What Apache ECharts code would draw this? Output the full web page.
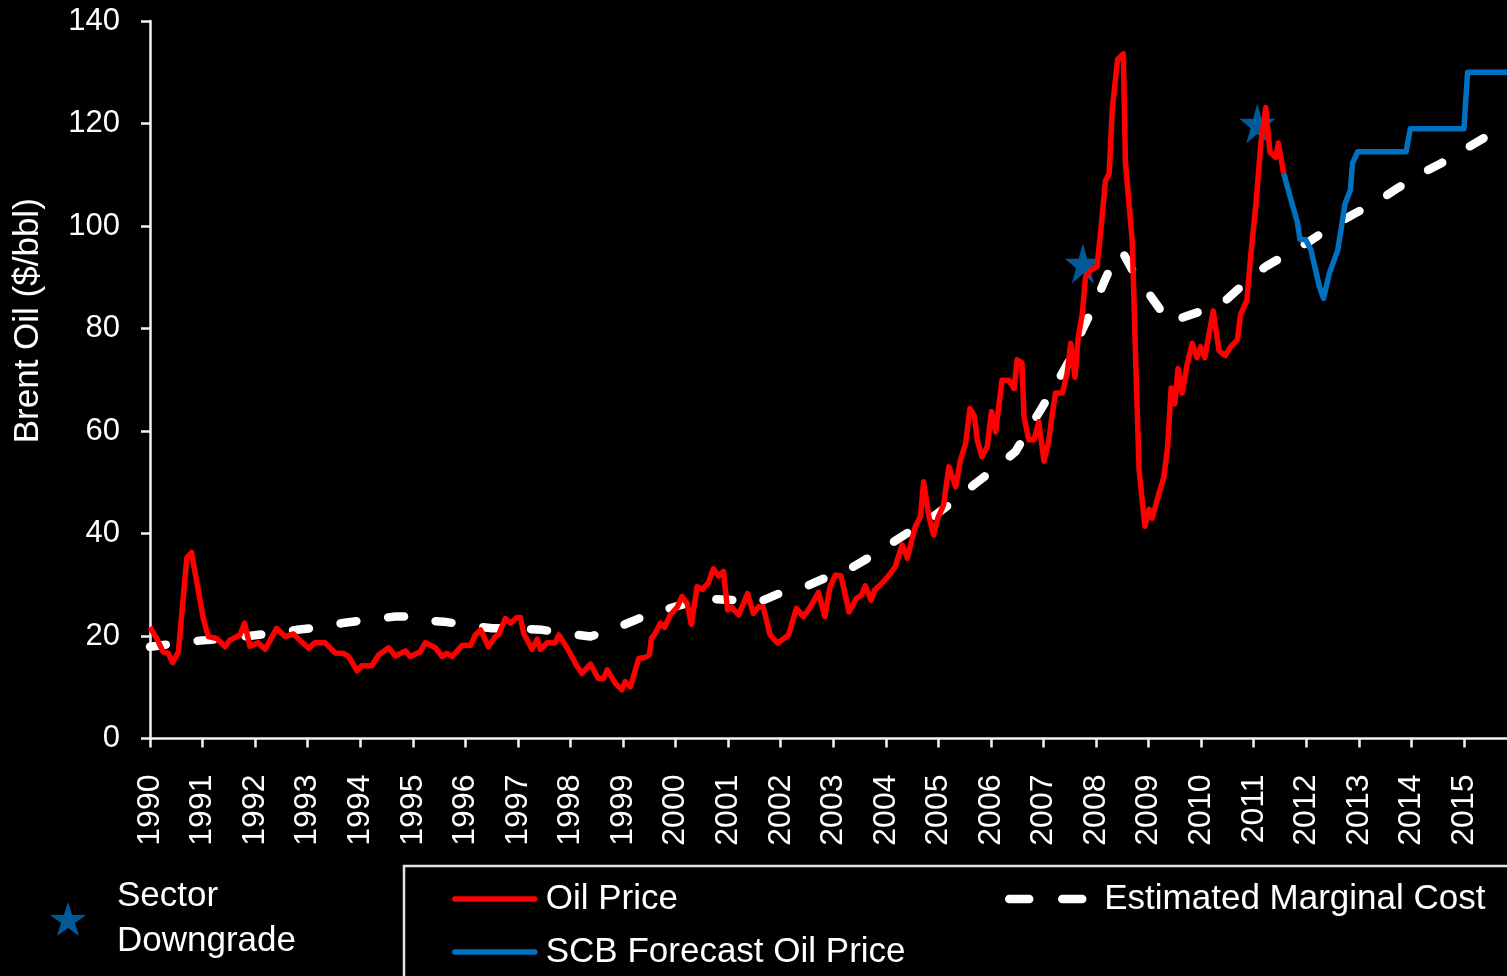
<!DOCTYPE html>
<html>
<head>
<meta charset="utf-8">
<title>Brent Oil</title>
<script src="https://cdn.jsdelivr.net/npm/echarts@6/dist/echarts.min.js"></script>
<style>
  html, body { margin: 0; padding: 0; background: #000; }
  #chart { width: 1507px; height: 976px; }
</style>
</head>
<body>
<div id="chart"></div>
<script>
// Brent monthly price, [decimal year, $/bbl]
const oilPrice = [
  [1990.00,21.7],[1990.13,19.5],[1990.25,16.9],[1990.35,16.6],[1990.43,14.8],[1990.54,16.9],
  [1990.70,35.2],[1990.79,36.3],[1991.02,23.1],[1991.11,19.9],[1991.27,19.5],[1991.43,17.9],
  [1991.52,19.2],[1991.71,20.2],[1991.80,22.5],[1991.90,18.0],[1992.06,18.7],[1992.19,17.4],
  [1992.41,21.5],[1992.57,19.9],[1992.73,20.4],[1992.86,19.1],[1993.02,17.6],[1993.14,18.7],
  [1993.33,18.7],[1993.52,16.7],[1993.68,16.6],[1993.78,16.0],[1993.94,13.2],[1994.03,14.2],
  [1994.22,14.2],[1994.35,16.3],[1994.54,17.7],[1994.67,16.1],[1994.86,17.1],[1994.95,16.0],
  [1995.14,16.9],[1995.24,18.7],[1995.43,17.7],[1995.56,16.0],[1995.65,16.6],[1995.75,16.0],
  [1995.94,18.2],[1996.10,18.2],[1996.19,20.2],[1996.29,21.2],[1996.44,17.9],[1996.57,19.9],
  [1996.63,20.2],[1996.76,23.4],[1996.86,22.5],[1996.98,23.6],[1997.05,23.6],[1997.11,20.5],
  [1997.27,17.4],[1997.37,19.4],[1997.43,17.4],[1997.56,18.7],[1997.71,18.7],[1997.78,20.2],
  [1997.94,17.6],[1998.13,14.0],[1998.22,12.7],[1998.38,14.5],[1998.53,11.7],[1998.63,11.7],
  [1998.70,13.4],[1998.85,10.8],[1998.98,9.5],[1999.04,11.1],[1999.14,10.1],[1999.30,15.6],
  [1999.42,15.8],[1999.50,16.3],[1999.54,19.5],[1999.61,20.5],[1999.71,22.5],[1999.79,21.7],
  [1999.90,24.1],[2000.03,25.6],[2000.12,27.7],[2000.22,26.4],[2000.30,22.3],[2000.41,29.6],
  [2000.51,29.1],[2000.62,30.3],[2000.72,33.1],[2000.82,31.7],[2000.91,32.6],[2000.99,25.1],
  [2001.07,25.6],[2001.20,24.1],[2001.37,28.3],[2001.48,24.4],[2001.58,25.7],[2001.67,25.6],
  [2001.80,20.2],[2001.94,18.6],[2002.15,20.2],[2002.30,25.4],[2002.43,23.8],[2002.56,25.6],
  [2002.72,28.5],[2002.84,23.8],[2002.94,29.6],[2003.04,31.9],[2003.15,31.7],[2003.30,24.7],
  [2003.44,27.3],[2003.54,28.0],[2003.61,29.8],[2003.72,27.0],[2003.79,29.0],[2003.89,29.9],
  [2004.04,31.6],[2004.18,33.5],[2004.31,37.8],[2004.41,35.2],[2004.56,41.3],[2004.66,43.3],
  [2004.72,50.1],[2004.82,43.3],[2004.91,39.7],[2004.99,43.0],[2005.10,45.6],[2005.20,53.0],
  [2005.33,49.1],[2005.42,54.3],[2005.52,57.6],[2005.60,64.4],[2005.69,62.8],[2005.74,58.2],
  [2005.83,55.0],[2005.93,56.9],[2006.01,63.8],[2006.09,59.8],[2006.21,69.9],[2006.34,69.9],
  [2006.44,68.3],[2006.50,73.9],[2006.59,73.3],[2006.63,62.8],[2006.72,58.3],[2006.82,58.3],
  [2006.91,61.8],[2007.01,54.1],[2007.10,58.0],[2007.17,63.5],[2007.23,67.4],[2007.36,67.4],
  [2007.45,71.2],[2007.52,77.1],[2007.60,70.5],[2007.66,78.1],[2007.74,83.0],[2007.80,90.0],
  [2007.90,91.4],[2008.02,92.1],[2008.09,99.1],[2008.18,108.8],[2008.25,110.2],[2008.31,122.8],
  [2008.41,132.5],[2008.52,133.6],[2008.56,112.3],[2008.69,97.0],[2008.76,71.9],[2008.82,52.4],
  [2008.93,41.4],[2009.01,44.7],[2009.07,43.0],[2009.17,46.8],[2009.29,51.0],[2009.36,56.6],
  [2009.43,68.4],[2009.50,65.3],[2009.56,72.2],[2009.64,67.4],[2009.74,73.3],[2009.83,77.1],
  [2009.92,74.3],[2009.99,76.4],[2010.07,74.3],[2010.15,78.9],[2010.23,83.4],[2010.34,75.7],
  [2010.46,74.7],[2010.56,76.4],[2010.69,77.8],[2010.75,82.7],[2010.87,85.5],[2010.95,94.9],
  [2011.04,104.0],[2011.14,116.5],[2011.23,123.1],[2011.31,114.4],[2011.42,113.4],[2011.47,116.2],
  [2011.57,110.3]
];

// Forecast path continuing from the last actual price
const forecastPrice = [
  [2011.57,110.3],[2011.71,105.1],[2011.83,100.8],[2011.88,97.4],[2011.99,97.3],[2012.09,95.3],
  [2012.25,88.2],[2012.33,85.9],[2012.44,90.8],[2012.60,95.3],[2012.74,104.4],[2012.84,107.0],
  [2012.88,112.2],[2012.98,114.5],[2013.90,114.5],[2013.98,119.0],[2015.00,119.0],[2015.07,130.0],
  [2015.82,130.0]
];

// Estimated marginal cost of supply
const marginalCost = [
  [1990.00,17.9],[1990.45,18.5],[1990.95,19.1],[1991.40,19.5],[1991.87,20.0],[1992.30,20.5],
  [1992.79,21.2],[1993.24,21.7],[1993.71,22.6],[1994.16,23.2],[1994.67,23.8],[1994.85,23.8],
  [1995.11,23.1],[1995.59,22.8],[1996.03,22.1],[1996.51,21.5],[1996.98,21.5],[1997.46,21.2],
  [1997.90,20.5],[1998.38,19.9],[1998.85,21.5],[1999.30,23.4],[1999.71,24.9],[2000.22,26.4],
  [2000.59,27.3],[2001.10,27.0],[2001.54,26.4],[2002.02,28.5],[2002.40,29.3],[2002.91,31.6],
  [2003.28,32.9],[2003.76,35.8],[2004.11,38.1],[2004.56,41.1],[2004.94,43.6],[2005.36,46.8],
  [2005.71,49.8],[2006.12,53.0],[2006.47,56.0],[2006.76,61.0],[2007.01,65.2],[2007.29,70.1],
  [2007.52,74.2],[2007.74,79.8],[2007.96,84.4],[2008.18,89.7],[2008.38,94.2],[2008.50,95.0],
  [2008.69,91.4],[2008.95,87.6],[2009.29,82.7],[2009.39,81.0],[2009.61,82.0],[2010.09,83.7],
  [2010.47,85.5],[2010.88,89.3],[2011.23,92.1],[2011.67,94.7],[2012.06,97.0],[2012.53,100.2],
  [2012.88,102.2],[2013.36,104.8],[2013.74,107.4],[2014.18,110.2],[2014.56,112.2],[2015.04,115.1],
  [2015.42,117.4],[2015.82,120.0]
];

// Sector downgrade calls
const downgrades = [[2007.75,92.7],[2011.07,120.0]];

// Axis ranges and tick steps
const yearRange = [1990, 2015.82];
const yearStep = 1;
const priceRange = [0, 140];
const priceStep = 20;

const FONT = "'Liberation Sans', Arial, Helvetica, sans-serif";
const STAR = 'path://M100,0L122.45,69.1L195.1,69.1L136.3,111.8L158.8,180.9L100,138.2L41.2,180.9L63.7,111.8L4.9,69.1L77.55,69.1Z';
const AXIS_COLOR = '#F2F2F2';

const chart = echarts.init(document.getElementById('chart'), null, { renderer: 'canvas' });

chart.setOption({
  backgroundColor: '#000000',
  animation: false,
  textStyle: { fontFamily: FONT, color: '#FFFFFF' },
  grid: { left: 150, right: 0, top: 21, bottom: 237.5, containLabel: false, outerBoundsMode: 'none' },
  xAxis: {
    type: 'value',
    min: yearRange[0],
    max: yearRange[1],
    interval: yearStep,
    splitLine: { show: false },
    axisLine: { show: true, lineStyle: { color: AXIS_COLOR, width: 2.5 } },
    axisTick: { show: true, inside: false, length: 9, lineStyle: { color: AXIS_COLOR, width: 2.5 } },
    axisLabel: {
      rotate: 90,
      margin: 36,
      fontSize: 32,
      color: '#FFFFFF',
      fontFamily: FONT,
      padding: [8, 0, 0, 0],
      showMaxLabel: false,
      formatter: v => (Math.abs(v - Math.round(v)) < 1e-6 ? String(Math.round(v)) : '')
    }
  },
  yAxis: {
    type: 'value',
    min: priceRange[0],
    max: priceRange[1],
    interval: priceStep,
    name: 'Brent Oil ($/bbl)',
    nameLocation: 'middle',
    nameGap: 104,
    nameTextStyle: { fontSize: 35, color: '#FFFFFF', fontFamily: FONT, padding: [0, 0, 0, 118] },
    splitLine: { show: false },
    axisLine: { show: true, lineStyle: { color: AXIS_COLOR, width: 2.5 } },
    axisTick: { show: true, inside: false, length: 9, lineStyle: { color: AXIS_COLOR, width: 2.5 } },
    axisLabel: { margin: 30, fontSize: 31, color: '#FFFFFF', fontFamily: FONT, padding: [8, 0, 0, 0] }
  },
  legend: [
    {
      data: ['Sector Downgrade'],
      left: 50,
      top: 874,
      padding: 0,
      icon: STAR,
      itemWidth: 36,
      itemHeight: 40,
      formatter: () => 'Sector\nDowngrade',
      textStyle: { fontSize: 35, lineHeight: 45, color: '#FFFFFF', fontFamily: FONT, padding: [0, 0, 0, 26] },
      selectedMode: false
    },
    {
      data: ['Oil Price', 'SCB Forecast Oil Price'],
      orient: 'vertical',
      left: 452,
      top: 881,
      padding: 0,
      itemWidth: 80,
      itemHeight: 14,
      itemGap: 17,
      itemStyle: { opacity: 0 },
      lineStyle: { width: 5.5, cap: 'round' },
      textStyle: { fontSize: 35, lineHeight: 36, color: '#FFFFFF', fontFamily: FONT, padding: [0, 0, 0, 6] },
      selectedMode: false
    },
    {
      data: ['Estimated Marginal Cost'],
      left: 1005,
      top: 881,
      padding: 0,
      itemWidth: 80,
      itemHeight: 14,
      itemStyle: { opacity: 0 },
      lineStyle: { width: 8.5, type: [20, 33], cap: 'round' },
      textStyle: { fontSize: 35, lineHeight: 36, color: '#FFFFFF', fontFamily: FONT, padding: [0, 0, 0, 10] },
      selectedMode: false
    }
  ],
  graphic: [
    {
      type: 'rect',
      silent: true,
      shape: { x: 404, y: 866, width: 1200, height: 200 },
      style: { fill: 'none', stroke: '#E6E6E6', lineWidth: 2.5 }
    }
  ],
  series: [
    {
      name: 'Estimated Marginal Cost',
      type: 'line',
      data: marginalCost,
      symbol: 'none',
      color: '#FFFFFF',
      lineStyle: { color: '#FFFFFF', width: 8.5, type: [16, 32], cap: 'round', join: 'round' }
    },
    {
      name: 'Sector Downgrade',
      type: 'scatter',
      data: downgrades,
      symbol: STAR,
      symbolSize: [36, 40],
      itemStyle: { color: '#0070C0' }
    },
    {
      name: 'Oil Price',
      type: 'line',
      data: oilPrice,
      symbol: 'none',
      color: '#FF0000',
      lineStyle: { color: '#FF0000', width: 5.5, join: 'round' }
    },
    {
      name: 'SCB Forecast Oil Price',
      type: 'line',
      data: forecastPrice,
      symbol: 'none',
      color: '#0070C0',
      lineStyle: { color: '#0070C0', width: 5.5, join: 'round' }
    }
  ]
});
</script>
</body>
</html>
